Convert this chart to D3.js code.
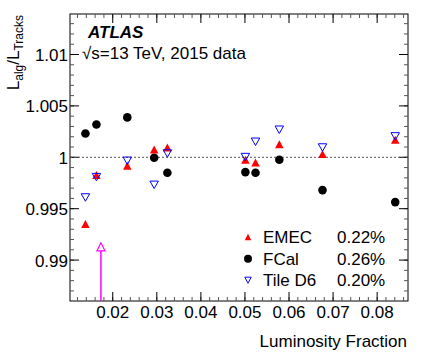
<!DOCTYPE html>
<html>
<head>
<meta charset="utf-8">
<script src="https://cdn.jsdelivr.net/npm/d3@7"></script>
<style>
body { margin: 0; background: #fff; }
text { font-family: "Liberation Sans", Arial, sans-serif; }
</style>
</head>
<body>
<div id="chart"></div>
<script>
// luminosity fraction of each run
var lumiFraction = [0.0138, 0.0163, 0.0233, 0.0294, 0.0324, 0.0501, 0.0524, 0.0578, 0.0676, 0.0841];
// ratio L_alg / L_Tracks per algorithm
var emec   = [0.99352, 0.99827, 0.99917, 1.00076, 1.00095, 0.99976, 0.99950, 1.00128, 1.00031, 1.00170];
var fcal   = [1.00232, 1.00319, 1.00388, 0.99995, 0.99849, 0.99856, 0.99849, 0.99976, 0.99681, 0.99564];
var tileD6 = [0.99609, 0.99807, 0.99966, 0.99732, 1.00037, 1.00002, 1.00151, 1.00268, 1.00095, 1.00203];
// off-scale point shown with an arrow
var offScale = [{x: 0.01732, y: 0.99129}];
var legendNames = ["EMEC", "FCal", "Tile D6"];
var legendRms = ["0.22%", "0.26%", "0.20%"];
var xTicks = [0.02, 0.03, 0.04, 0.05, 0.06, 0.07, 0.08];
var yTicks = [0.99, 0.995, 1, 1.005, 1.01];

var W = 425, H = 362;
var FS = 17;
var svg = d3.select("#chart").append("svg")
    .attr("width", W)
    .attr("height", H);

var x = d3.scaleLinear().domain([0.0103, 0.0870]).range([70, 408]);
var y = d3.scaleLinear().domain([0.98602, 1.01394]).range([301, 14]);

//triangle paths (width w, height h)
function triUp(w, h) {
    return "M0," + (-h / 2) + "L" + (w / 2) + "," + (h / 2) + "L" + (-w / 2) + "," + (h / 2) + "Z";
}
function triDown(w, h) {
    return "M0," + (h / 2) + "L" + (w / 2) + "," + (-h / 2) + "L" + (-w / 2) + "," + (-h / 2) + "Z";
}

//frame
svg.append("rect")
    .attr("x", 70).attr("y", 14)
    .attr("width", 338).attr("height", 287)
    .attr("fill", "none").attr("stroke", "#000").attr("stroke-width", 1);

// minor ticks
var xMinor = d3.range(0.012, 0.0871, 0.002);
var yMinor = d3.range(0.987, 1.0139, 0.001);

function tickLines(vals, isX, len, color) {
    vals.forEach(function (v) {
        if (isX) {
            var px = x(v);
            svg.append("line").attr("x1", px).attr("x2", px).attr("y1", 301).attr("y2", 301 - len).attr("stroke", color);
            svg.append("line").attr("x1", px).attr("x2", px).attr("y1", 14).attr("y2", 14 + len).attr("stroke", color);
        } else {
            var py = y(v);
            svg.append("line").attr("y1", py).attr("y2", py).attr("x1", 70).attr("x2", 70 + len).attr("stroke", color);
            svg.append("line").attr("y1", py).attr("y2", py).attr("x1", 408).attr("x2", 408 - len).attr("stroke", color);
        }
    });
}
tickLines(xMinor, true, 4, "#555");
tickLines(yMinor, false, 4, "#555");
tickLines(xTicks, true, 9, "#000");
tickLines(yTicks, false, 9, "#000");

//tick labels
svg.selectAll(".xlab").data(xTicks).enter().append("text")
    .attr("x", function (d) { return x(d); })
    .attr("y", 318)
    .attr("text-anchor", "middle")
    .attr("font-size", FS)
    .text(function (d) { return d3.format(".2f")(d); });

svg.selectAll(".ylab").data(yTicks).enter().append("text")
    .attr("x", 68)
    .attr("y", function (d) { return y(d) + 6.5; })
    .attr("text-anchor", "end")
    .attr("font-size", FS)
    .text(function (d) { return d === 1 ? "1" : String(d); });

// axis titles
svg.append("text")
    .attr("x", 407).attr("y", 347)
    .attr("text-anchor", "end")
    .attr("font-size", FS)
    .text("Luminosity Fraction");

var yt = svg.append("text")
    .attr("transform", "translate(19,15) rotate(-90)")
    .attr("text-anchor", "end")
    .attr("font-size", FS);
yt.append("tspan").text("L");
yt.append("tspan").attr("font-size", 12).attr("dy", 4).text("alg");
yt.append("tspan").attr("dy", -4).text("/L");
yt.append("tspan").attr("font-size", 12).attr("dy", 4).text("Tracks");

// reference line
svg.append("line")
    .attr("x1", 70).attr("x2", 408)
    .attr("y1", y(1)).attr("y2", y(1))
    .attr("stroke", "#555").attr("stroke-width", 1)
    .attr("stroke-dasharray", "2,2");

// ATLAS label
svg.append("text")
    .attr("x", 88).attr("y", 38)
    .attr("font-size", FS)
    .attr("font-weight", "bold")
    .attr("font-style", "italic")
    .text("ATLAS");
svg.append("text")
    .attr("x", 82).attr("y", 59)
    .attr("font-size", FS)
    .text("\u221As=13 TeV, 2015 data");

// off-scale arrow
svg.selectAll(".arrowline").data(offScale).enter().append("line")
    .attr("x1", function (d) { return x(d.x); })
    .attr("x2", function (d) { return x(d.x); })
    .attr("y1", function (d) { return y(d.y) + 3; })
    .attr("y2", 301)
    .attr("stroke", "#ff00ff").attr("stroke-width", 1.5);
svg.selectAll(".arrowhead").data(offScale).enter().append("path")
    .attr("d", triUp(8, 8))
    .attr("transform", function (d) { return "translate(" + x(d.x) + "," + y(d.y) + ")"; })
    .attr("fill", "#fff").attr("stroke", "#ff00ff").attr("stroke-width", 1.2);

// FCal circles
svg.selectAll(".fcal").data(fcal).enter().append("circle")
    .attr("cx", function (d, i) { return x(lumiFraction[i]); })
    .attr("cy", function (d) { return y(d); })
    .attr("r", 4.3)
    .attr("fill", "#000");

// EMEC triangles
svg.selectAll(".emec").data(emec).enter().append("path")
    .attr("d", triUp(8.5, 8))
    .attr("transform", function (d, i) { return "translate(" + x(lumiFraction[i]) + "," + y(d) + ")"; })
    .attr("fill", "#ff0000");

// Tile D6 open triangles
svg.selectAll(".tile").data(tileD6).enter().append("path")
    .attr("d", triDown(8.5, 7.5))
    .attr("transform", function (d, i) { return "translate(" + x(lumiFraction[i]) + "," + y(d) + ")"; })
    .attr("fill", "none").attr("stroke", "#0000ff").attr("stroke-width", 1);

// legend
var legY = [237, 258.7, 280.2];
legendNames.forEach(function (name, i) {
    var g = svg.append("g").attr("transform", "translate(248," + legY[i] + ")");
    if (i === 0) {
        g.append("path").attr("d", triUp(6.5, 6.5)).attr("fill", "#ff0000");
    } else if (i === 1) {
        g.append("circle").attr("r", 4).attr("fill", "#000");
    } else {
        g.append("path").attr("d", triDown(6.5, 6))
            .attr("fill", "none").attr("stroke", "#0000ff");
    }
    svg.append("text").attr("x", 263).attr("y", legY[i] + 6)
        .attr("font-size", FS).text(name);
    svg.append("text").attr("x", 337).attr("y", legY[i] + 6)
        .attr("font-size", FS).text(legendRms[i]);
});
</script>
</body>
</html>
